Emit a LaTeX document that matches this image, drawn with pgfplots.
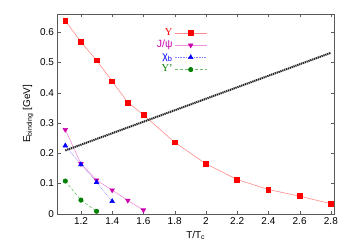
\documentclass[border=0pt]{standalone}
\usepackage{fontspec}
\setmainfont{Liberation Sans}
\newfontfamily\serifgr{Liberation Serif}
\usepackage{pgfplots}
\pgfplotsset{compat=1.18}
\definecolor{cR}{RGB}{255,0,0}
\definecolor{cRl}{RGB}{255,140,140}
\definecolor{cM}{RGB}{204,0,170}
\definecolor{cMl}{RGB}{240,140,220}
\definecolor{cB}{RGB}{0,0,255}
\definecolor{cBl}{RGB}{130,130,255}
\definecolor{cG}{RGB}{0,128,0}
\definecolor{cGl}{RGB}{110,190,110}
\begin{document}
\begin{tikzpicture}
\begin{axis}[
  at={(0,0)}, anchor=south west,
  scale only axis, width=276.5bp, height=199.6bp,
  xmin=1.05, xmax=2.82, ymin=0, ymax=0.66,
  xtick={1.2,1.4,1.6,1.8,2.0,2.2,2.4,2.6,2.8},
  ytick={0,0.1,0.2,0.3,0.4,0.5,0.6},
  tick align=inside, tick pos=both,
  major tick length=3bp,
  axis line style={gray!70!black},
  tick style={gray!70!black},
  /pgf/number format/assume math mode=true,
  /pgf/number format/fixed,
  tick label style={font=\fontsize{10}{12}\selectfont},
  label style={font=\fontsize{10}{12}\selectfont},
  xlabel={T/T\textsubscript{c}},
  ylabel={E\textsubscript{binding} [GeV]},
  legend plot pos=right,
  legend cell align=right,
  legend style={draw=none, fill=none, at={(rel axis cs:0.541,0.937)}, anchor=north east,
    font=\fontsize{10.5}{12}\selectfont, row sep=0pt, inner sep=0pt,
    nodes={inner sep=0pt, inner xsep=2pt, text height=8.2bp, text depth=4bp}},
  legend image code/.code={\draw[mark repeat=2,mark phase=2] plot coordinates {(0cm,0cm)(0.56cm,0cm)(1.12cm,0cm)};},
]
\addplot[cRl, line width=0.6pt, mark=square*, mark size=2.4bp, mark options={draw=cR, fill=cR, solid}]
 coordinates {(1.1,0.638)(1.2,0.568)(1.3,0.507)(1.4,0.438)(1.5,0.368)(1.6,0.327)(1.8,0.236)(2.0,0.165)(2.2,0.113)(2.4,0.080)(2.6,0.058)(2.8,0.033)};
\addlegendentry{\textcolor{cR}{\serifgr Υ}}
\addplot[cMl, line width=0.6pt, mark=triangle*, mark size=2.6bp, mark options={draw=cM, fill=cM, rotate=180, solid}]
 coordinates {(1.1,0.278)(1.2,0.165)(1.3,0.111)(1.4,0.078)(1.5,0.044)(1.6,0.012)};
\addlegendentry{\textcolor{cM}{J/ψ}}
\addplot[cBl, line width=0.6pt, densely dotted, mark=triangle*, mark size=2.6bp, mark options={draw=cB, fill=cB, solid}]
 coordinates {(1.1,0.225)(1.2,0.163)(1.3,0.104)(1.4,0.041)};
\addlegendentry{\textcolor{cB}{χ\textsubscript{b}}}
\addplot[cGl, line width=0.6pt, densely dashed, mark=*, mark size=2.2bp, mark options={draw=cG, fill=cG, solid}]
 coordinates {(1.1,0.108)(1.2,0.045)(1.3,0.008)};
\addlegendentry{\textcolor{cG}{\serifgr Υ’}}
\addplot[black!85, line width=2pt, dash pattern=on 1.3pt off 0.7pt, forget plot]
 coordinates {(1.1,0.209)(2.8,0.532)};
\end{axis}
\path (-57.5bp,-34.7bp) rectangle (296.5bp,213.7bp);
\end{tikzpicture}
\end{document}
